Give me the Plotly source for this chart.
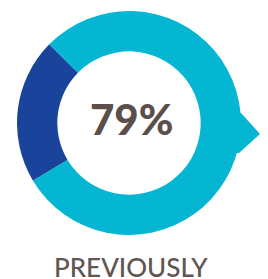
import plotly.graph_objects as go

labels = ["Other", "Previously"]
values = [21, 79]
colors = ["#1a449b", "#04b6d1"]
center_text = "79%"
caption = "PREVIOUSLY"

W, H = 268, 279

def px(x, y):
    return x / W, 1 - y / H

fig = go.Figure(go.Pie(
    labels=labels, values=values, sort=False, direction="clockwise",
    rotation=239, hole=0.64, marker=dict(colors=colors, line=dict(width=0)),
    textinfo="none", hoverinfo="none", showlegend=False,
    domain=dict(x=[17 / W, 241 / W], y=[44 / H, 268 / H]),
))

# arrowhead on the right side of the ring
pts = [(230, 113), (241, 113), (260, 134), (239, 153), (230, 153)]
path = "M " + " L ".join(f"{px(a, b)[0]:.4f},{px(a, b)[1]:.4f}" for a, b in pts) + " Z"
fig.add_shape(type="path", path=path, xref="paper", yref="paper",
              fillcolor=colors[1], line=dict(width=0), layer="below")

cx, cy = px(131, 119)
fig.add_annotation(x=cx, y=cy, xref="paper", yref="paper", text=center_text,
                   showarrow=False, xanchor="center", yanchor="middle",
                   font=dict(family="Lato", size=42, color="#5b4f4b", weight=900))
tx, ty = px(131, 267)
fig.add_annotation(x=tx, y=ty, xref="paper", yref="paper", text=caption,
                   showarrow=False, xanchor="center", yanchor="middle",
                   font=dict(family="Lato", size=26, color="#5f5552", weight=500))

fig.update_layout(width=W, height=H, margin=dict(l=0, r=0, t=0, b=0),
                  paper_bgcolor="white", plot_bgcolor="white")
fig.write_html("out.html", config={"displayModeBar": False},
               post_script="document.body.style.margin='0';document.body.style.overflow='hidden';")
